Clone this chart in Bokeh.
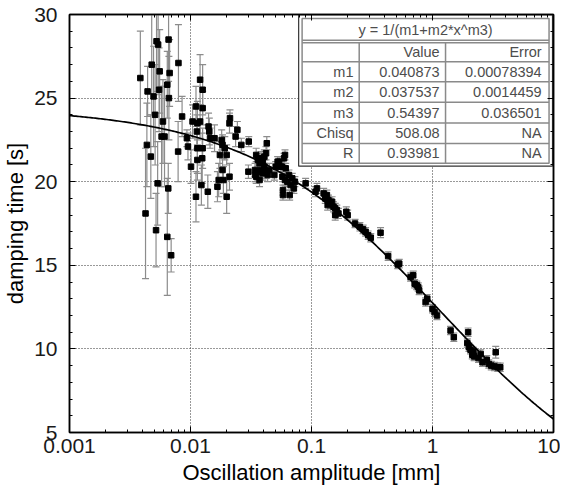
import numpy as np
from bokeh.plotting import figure
from bokeh.models import LogAxis, LinearAxis, FixedTicker, CustomJSTickFormatter, Range1d, ColumnDataSource
from bokeh.core.properties import value
from bokeh.embed import file_html
from bokeh.resources import INLINE

# ---------------- data ----------------
amplitude = [
    0.00385, 0.00442, 0.00436, 0.00425, 0.00470, 0.00478, 0.00495, 0.00510, 0.00524, 0.00540,
    0.00550, 0.00556, 0.00535, 0.00519, 0.00592, 0.00577, 0.00610, 0.00643, 0.00659, 0.00672,
    0.00663, 0.00655, 0.00643, 0.00692, 0.00795, 0.00852, 0.00790, 0.00934, 0.00953, 0.0101,
    0.0104, 0.0111, 0.0113, 0.0114, 0.0120, 0.0126, 0.0120, 0.0126, 0.0114, 0.0114,
    0.0126, 0.0125, 0.0123, 0.0111, 0.0139, 0.0141, 0.0143, 0.0145, 0.0158, 0.0167,
    0.0171, 0.0175, 0.0181, 0.0184, 0.0192, 0.0199, 0.0199, 0.0187, 0.0184, 0.0210,
    0.0210, 0.0212, 0.0236, 0.0244, 0.0263, 0.0303, 0.0301, 0.0342, 0.0342,
    0.0349, 0.0360, 0.0372, 0.0383, 0.0396, 0.0408, 0.0383, 0.0396, 0.0360, 0.0349,
    0.0372, 0.0421, 0.0434, 0.0448, 0.0408, 0.0421, 0.0427, 0.0493, 0.0506, 0.0525,
    0.0540, 0.0558, 0.0568, 0.0593, 0.0604, 0.0612, 0.0575, 0.0604, 0.0632, 0.0651,
    0.0693, 0.0672, 0.0715, 0.0581, 0.0581, 0.0660, 0.0729, 0.0894,
    0.108, 0.111, 0.126, 0.134, 0.130, 0.138, 0.143, 0.148, 0.152, 0.157,
    0.162, 0.167, 0.157, 0.136, 0.194, 0.199, 0.229, 0.251, 0.267, 0.280,
    0.294, 0.309, 0.372, 0.430, 0.516, 0.531, 0.659, 0.693, 0.712, 0.741,
    0.762, 0.776, 0.877, 0.905,
    1.00, 1.04, 1.09, 1.41, 1.50, 1.97, 1.94, 2.00, 2.06, 2.13,
    2.21, 2.18, 2.40, 2.50, 2.59, 2.81, 2.92, 3.06, 3.25, 3.46,
    3.63, 3.33,
]
damping_time = [
    26.2, 25.4, 22.2, 18.1, 21.5, 27.0, 25.1, 24.0, 28.4, 28.2,
    25.5, 26.6, 19.9, 17.1, 23.6, 22.7, 22.7, 25.8, 28.5, 26.5,
    25.0, 19.6, 16.7, 15.6, 27.1, 23.9, 21.8, 22.6, 22.1, 20.9,
    23.6, 24.5, 23.0, 23.5, 26.1, 25.5, 23.6, 24.4, 22.0, 21.3,
    22.0, 21.4, 19.8, 19.1, 19.4, 23.3, 23.0, 22.6, 22.6, 19.7,
    20.1, 21.6, 22.5, 22.2, 22.0, 21.6, 19.1, 20.1, 20.7, 20.3,
    23.5, 23.8, 22.7, 23.1, 22.2, 22.4, 20.6, 20.7, 20.4,
    21.6, 21.3, 21.1, 21.4, 21.2, 20.9, 20.7, 20.5, 20.6, 20.3,
    20.1, 20.6, 20.4, 20.7, 21.5, 21.7, 22.3, 20.4, 20.9, 21.2,
    21.2, 20.9, 20.9, 21.4, 21.6, 20.8, 20.3, 20.1, 20.0, 20.4,
    20.2, 19.8, 19.6, 19.5, 19.2, 19.2, 20.0, 19.9,
    19.4, 19.6, 19.3, 19.2, 19.0, 18.9, 18.7, 18.8, 18.5, 18.4,
    18.3, 18.1, 18.0, 18.6, 18.2, 18.0, 17.5, 17.3, 17.15, 17.0,
    16.8, 16.65, 16.95, 15.55, 15.05, 15.1, 14.3, 14.4, 13.9, 13.8,
    13.7, 13.5, 12.8, 13.0,
    12.4, 12.2, 12.0, 11.1, 10.7, 11.0, 10.35, 10.1, 9.95, 9.65,
    9.55, 9.85, 9.45, 9.7, 9.2, 9.35, 9.1, 9.0, 8.95, 8.9,
    8.9, 9.8,
]
damping_err = [
    2.8, 1.5, 2.5, 3.9, 2.5, 3.0, 3.0, 3.0, 3.0, 3.0,
    2.5, 2.5, 2.5, 2.2, 2.5, 3.0, 3.0, 2.0, 2.5, 2.0,
    2.5, 1.5, 3.5, 1.0, 2.3, 1.2, 1.8, 0.5, 0.8, 1.0,
    1.0, 1.2, 1.0, 1.3, 1.5, 1.5, 1.0, 1.0, 1.5, 1.2,
    1.2, 1.5, 1.2, 1.5, 1.0, 0.8, 0.8, 0.6, 0.8, 0.9,
    1.0, 0.8, 0.6, 0.6, 0.7, 0.6, 1.0, 0.8, 0.7, 0.8,
    0.6, 0.5, 0.6, 0.5, 0.4, 0.3, 0.4, 0.4, 0.4,
    0.4, 0.4, 0.4, 0.4, 0.4, 0.4, 0.4, 0.4, 0.4, 0.4,
    0.4, 0.4, 0.4, 0.4, 0.4, 0.4, 0.4, 0.3, 0.3, 0.3,
    0.3, 0.3, 0.3, 0.3, 0.3, 0.3, 0.3, 0.3, 0.3, 0.3,
    0.3, 0.3, 0.3, 0.3, 0.3, 0.3, 0.3, 0.3,
    0.3, 0.3, 0.3, 0.3, 0.3, 0.3, 0.3, 0.3, 0.3, 0.3,
    0.3, 0.3, 0.3, 0.3, 0.3, 0.3, 0.25, 0.25, 0.25, 0.25,
    0.25, 0.25, 0.3, 0.25, 0.25, 0.25, 0.25, 0.25, 0.25, 0.25,
    0.25, 0.25, 0.25, 0.25,
    0.25, 0.25, 0.25, 0.25, 0.25, 0.25, 0.25, 0.25, 0.25, 0.25,
    0.25, 0.25, 0.25, 0.25, 0.25, 0.25, 0.25, 0.25, 0.25, 0.25,
    0.25, 0.35,
]

# fit parameters shown in the inset table
fit_title = "y = 1/(m1+m2*x^m3)"
param_names = ["m1", "m2", "m3", "Chisq", "R"]
param_values = ["0.040873", "0.037537", "0.54397", "508.08", "0.93981"]
param_errors = ["0.00078394", "0.0014459", "0.036501", "NA", "NA"]
m1, m2, m3 = 0.040873, 0.037537, 0.54397

x_ticks = [0.001, 0.01, 0.1, 1, 10]
y_ticks = [5, 10, 15, 20, 25, 30]

# ---------------- figure ----------------
FONT = "Liberation Sans"
p = figure(width=560, height=490, x_axis_type="log",
           x_range=Range1d(0.001, 10), y_range=Range1d(5, 30),
           output_backend="svg", toolbar_location=None,
           min_border_left=63, min_border_right=7, min_border_top=14, min_border_bottom=58)
p.background_fill_color = "white"
p.border_fill_color = "white"
p.outline_line_color = "black"
p.outline_line_width = 1.5

x_minor = [m * 10.0 ** k for k in range(-3, 1) for m in range(2, 10)]
y_minor = list(range(5, 31))
xt = FixedTicker(ticks=x_ticks, minor_ticks=x_minor)
yt = FixedTicker(ticks=y_ticks, minor_ticks=y_minor)

fmt = CustomJSTickFormatter(code="return tick >= 1 ? tick.toFixed(0) : tick.toPrecision(1);")
blank = CustomJSTickFormatter(code="return '';")

def style_axis(ax, labels=True):
    ax.axis_line_color = "black"
    ax.axis_line_width = 1.5
    ax.major_tick_in = 6
    ax.major_tick_out = 0
    ax.minor_tick_in = 3
    ax.minor_tick_out = 0
    ax.major_tick_line_color = "black"
    ax.minor_tick_line_color = "black"
    if labels:
        ax.major_label_text_font = FONT
        ax.major_label_text_font_size = "21px"
        ax.major_label_text_color = "#1a1a1a"
        ax.axis_label_text_font = FONT
        ax.axis_label_text_font_size = "22px"
        ax.axis_label_text_font_style = "normal"
        ax.axis_label_text_color = "black"
    else:
        ax.formatter = blank
        ax.major_label_text_font_size = "8px"
        ax.major_label_standoff = 0

p.xaxis.ticker = xt
p.xaxis.formatter = fmt
p.yaxis.ticker = yt
style_axis(p.xaxis[0])
style_axis(p.yaxis[0])
p.xaxis.axis_label = "Oscillation amplitude [mm]"
p.yaxis.axis_label = "damping time [s]"
p.xaxis.major_label_standoff = 6
p.xaxis.axis_label_standoff = 4
p.yaxis.major_label_standoff = 12
p.yaxis.axis_label_standoff = 3

top_ax = LogAxis(ticker=FixedTicker(ticks=x_ticks, minor_ticks=x_minor))
right_ax = LinearAxis(ticker=FixedTicker(ticks=y_ticks, minor_ticks=y_minor))
style_axis(top_ax, labels=False)
style_axis(right_ax, labels=False)
p.add_layout(top_ax, "above")
p.add_layout(right_ax, "right")

for g, t in ((p.xgrid, xt), (p.ygrid, yt)):
    g.ticker = t
    g.grid_line_color = "#333333"
    g.grid_line_dash = "1 2"
    g.grid_line_width = 1

# ---------------- data marks ----------------
amp = np.array(amplitude)
tau = np.array(damping_time)
err = np.array(damping_err)
src = ColumnDataSource(dict(x=amp, y=tau, lo=tau - err, hi=tau + err))

ERRC = "#8c8c8c"
p.segment(x0="x", y0="lo", x1="x", y1="hi", source=src, line_color=ERRC, line_width=1.2)
p.scatter(x="x", y="lo", source=src, marker="dash", size=7, line_color=ERRC, line_width=1.2)
p.scatter(x="x", y="hi", source=src, marker="dash", size=7, line_color=ERRC, line_width=1.2)

fit_x = np.logspace(-3, 1, 300)
fit_y = 1.0 / (m1 + m2 * fit_x ** m3)
p.line(fit_x, fit_y, line_color="black", line_width=1.7)

p.scatter(x="x", y="y", source=src, marker="square", size=5.5, fill_color="black", line_color="black")

# ---------------- inset parameter table ----------------
# positions in pixels relative to the plot frame's top-left corner (frame 490 x 419 px)
FW, FH = 490.0, 419.0
def X(px):
    return 10 ** (-3 + 4 * px / FW)
def Y(py):
    return 30 - 25 * py / FH

L0, R0, T0, B0 = 232.0, 489.0, 0.5, 152.0      # outer dark border
L1, R1, T1, B1 = 235.5, 485.5, 4.0, 149.0      # inner grey border
p.quad(left=X(L0), right=X(R0), top=Y(T0), bottom=Y(B0), fill_color="white", line_color="#333333", line_width=1.2)
p.quad(left=X(L1), right=X(R1), top=Y(T1), bottom=Y(B1), fill_color="white", line_color="#8a8a8a", line_width=1.5)

row_lines = [25.7, 28.2, 47.3, 67.5, 88.0, 108.7, 129.3]
p.segment(x0=[X(L1)] * len(row_lines), x1=[X(R1)] * len(row_lines),
          y0=[Y(v) for v in row_lines], y1=[Y(v) for v in row_lines],
          line_color="#8a8a8a", line_width=1.5)
col_lines = [293.3, 380.7]
p.segment(x0=[X(v) for v in col_lines], x1=[X(v) for v in col_lines],
          y0=[Y(28.2)] * 2, y1=[Y(B1)] * 2, line_color="#8a8a8a", line_width=1.5)

TXT = "#4d4d4d"
FS = "14.5px"
p.text(x=[X((L1 + R1) / 2)], y=[Y(15.3)], text=[fit_title], text_align="center", text_baseline="middle",
       text_font=value(FONT), text_font_size=FS, text_color=TXT)
row_y = [Y(v) for v in (57.5, 77.7, 98.3, 119.0, 139.3)]
p.text(x=[X(374.7), X(478.0)], y=[Y(37.7)] * 2, text=["Value", "Error"], text_align="right",
       text_baseline="middle", text_font=value(FONT), text_font_size=FS, text_color=TXT)
p.text(x=[X(287.5)] * 5, y=row_y, text=param_names, text_align="right", text_baseline="middle",
       text_font=value(FONT), text_font_size=FS, text_color=TXT)
p.text(x=[X(374.7)] * 5, y=row_y, text=param_values, text_align="right", text_baseline="middle",
       text_font=value(FONT), text_font_size=FS, text_color=TXT)
p.text(x=[X(478.0)] * 5, y=row_y, text=param_errors, text_align="right", text_baseline="middle",
       text_font=value(FONT), text_font_size=FS, text_color=TXT)

open("out.html", "w").write(file_html(p, INLINE))
